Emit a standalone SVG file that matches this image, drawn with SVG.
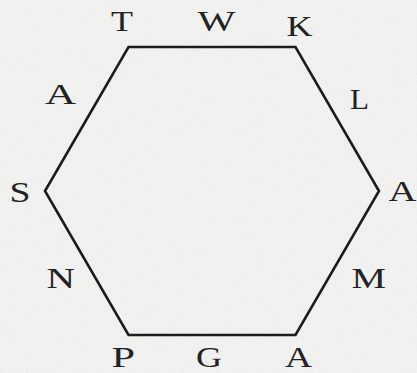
<svg xmlns="http://www.w3.org/2000/svg" width="417" height="373" viewBox="0 0 417 373">
  <defs>
    <filter id="paper" x="0" y="0" width="100%" height="100%">
      <feTurbulence type="fractalNoise" baseFrequency="0.9" numOctaves="2" seed="3" result="n"/>
      <feColorMatrix in="n" type="matrix" values="0 0 0 0 0  0 0 0 0 0  0 0 0 0 0  0 0 0 0.05 0" result="a"/>
      <feComposite in="a" in2="SourceGraphic" operator="over"/>
    </filter>
  </defs>
  <style>
    .shape { fill: none; stroke: #1c1c1c; stroke-width: 2.6; stroke-linejoin: miter; }
    .lbl { font-family: "Liberation Serif", "DejaVu Serif", serif; font-size: 30px; fill: #222222; }
  </style>
  <rect x="0" y="0" width="417" height="373" fill="#f3f3f2" filter="url(#paper)"/>
  <g id="hexagon">
    <polygon class="shape" points="128.5,47 295.5,47 379,191 295.5,335 128.5,335 45,191"/>
  </g>
  <g id="labels">
    <g id="label-T"><text class="lbl" x="111" y="31" textLength="22" lengthAdjust="spacingAndGlyphs">T</text></g>
    <g id="label-W"><text class="lbl" x="197.5" y="31" textLength="38" lengthAdjust="spacingAndGlyphs">W</text></g>
    <g id="label-K"><text class="lbl" x="286.5" y="36" textLength="26" lengthAdjust="spacingAndGlyphs">K</text></g>
    <g id="label-A1"><text class="lbl" x="45" y="103.5" textLength="31" lengthAdjust="spacingAndGlyphs">A</text></g>
    <g id="label-L"><text class="lbl" x="350" y="108.5" textLength="19" lengthAdjust="spacingAndGlyphs">L</text></g>
    <g id="label-S"><text class="lbl" x="9.5" y="201.5" textLength="21" lengthAdjust="spacingAndGlyphs">S</text></g>
    <g id="label-A2"><text class="lbl" x="388.5" y="200.5" textLength="28" lengthAdjust="spacingAndGlyphs">A</text></g>
    <g id="label-N"><text class="lbl" x="46.5" y="287.5" textLength="28.5" lengthAdjust="spacingAndGlyphs">N</text></g>
    <g id="label-M"><text class="lbl" x="351.5" y="287.5" textLength="34.5" lengthAdjust="spacingAndGlyphs">M</text></g>
    <g id="label-P"><text class="lbl" x="111.5" y="366.5" textLength="23.5" lengthAdjust="spacingAndGlyphs">P</text></g>
    <g id="label-G"><text class="lbl" x="196" y="366.5" textLength="26" lengthAdjust="spacingAndGlyphs">G</text></g>
    <g id="label-A3"><text class="lbl" x="285" y="366.5" textLength="27" lengthAdjust="spacingAndGlyphs">A</text></g>
  </g>
</svg>
